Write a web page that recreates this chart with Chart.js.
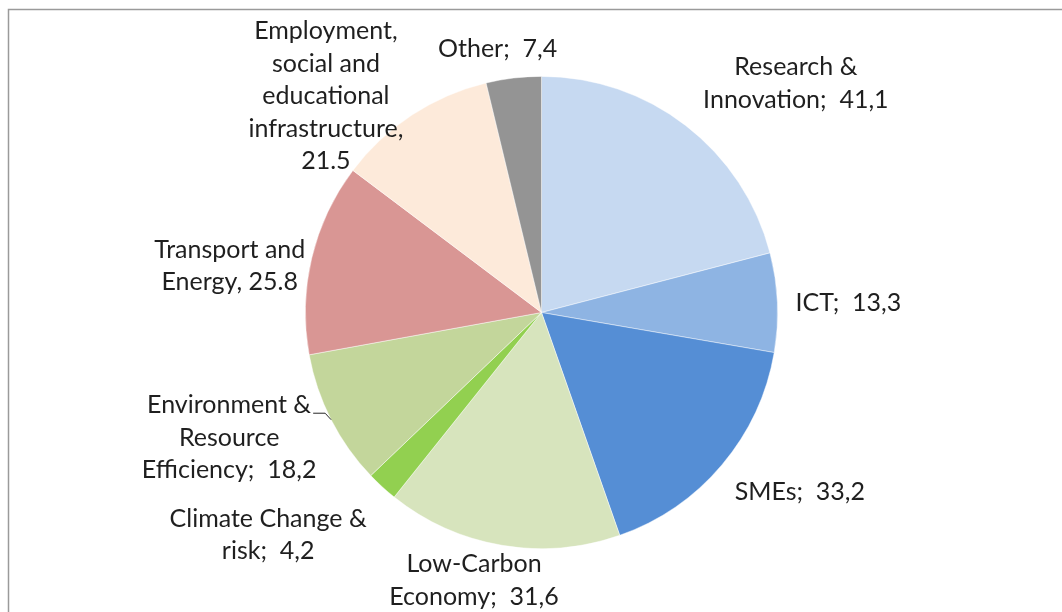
<!DOCTYPE html>
<html>
<head>
<meta charset="utf-8">
<script src="https://cdn.jsdelivr.net/npm/chart.js@4/dist/chart.umd.min.js"></script>
<style>
  html, body { margin: 0; padding: 0; background: #fff; }
  #wrap { width: 1062px; height: 612px; position: relative; }
</style>
</head>
<body>
<div id="wrap"><canvas id="c" width="1062" height="612"></canvas></div>
<script>
// ---- Data ----
const categories = [
  "Research & Innovation",
  "ICT",
  "SMEs",
  "Low-Carbon Economy",
  "Climate Change & risk",
  "Environment & Resource Efficiency",
  "Transport and Energy",
  "Employment, social and educational infrastructure",
  "Other"
];
const values = [41.1, 13.3, 33.2, 31.6, 4.2, 18.2, 25.8, 21.5, 7.4];
const labelTexts = [
  ["Research &", "Innovation;  41,1"],
  ["ICT;  13,3"],
  ["SMEs;  33,2"],
  ["Low-Carbon", "Economy;  31,6"],
  ["Climate Change &", "risk;  4,2"],
  ["Environment &", "Resource", "Efficiency;  18,2"],
  ["Transport and", "Energy, 25.8"],
  ["Employment,", "social and", "educational", "infrastructure,", "21.5"],
  ["Other;  7,4"]
];

// ---- Styles ----
const colors = ["#C6D9F1", "#8EB4E3", "#558ED5", "#D7E4BD", "#92D050", "#C3D69B", "#D99694", "#FDEADA", "#949494"];
// label offset from slice edge midpoint (dx, dy)
const labelOffsets = [[110, -42], [71, 0], [78, 27], [-28, 35], [-114, 48], [-102, 18], [-82, 8], [-86, -19], [-16, -29]];
const leaderLines = [false, false, false, false, false, true, false, false, false];
const FONT = '25px "Lato", "Open Sans", sans-serif';
const LINE_H = 32.5;

const framePlugin = {
  id: 'frame',
  beforeDraw(chart) {
    const ctx = chart.ctx;
    ctx.save();
    ctx.strokeStyle = '#9a9a9a';
    ctx.lineWidth = 1.5;
    ctx.beginPath();
    ctx.moveTo(8.5, 612);
    ctx.lineTo(8.5, 9.5);
    ctx.lineTo(1062, 9.5);
    ctx.stroke();
    ctx.restore();
  }
};

const labelPlugin = {
  id: 'pieLabels',
  afterDraw(chart) {
    const ctx = chart.ctx;
    const meta = chart.getDatasetMeta(0);
    ctx.save();
    ctx.font = FONT;
    ctx.fillStyle = '#1f1f1f';
    ctx.textAlign = 'center';
    ctx.textBaseline = 'middle';
    meta.data.forEach((arc, i) => {
      const p = arc.getProps(['x', 'y', 'startAngle', 'endAngle', 'outerRadius'], true);
      const mid = (p.startAngle + p.endAngle) / 2;
      const ex = p.x + Math.cos(mid) * p.outerRadius;
      const ey = p.y + Math.sin(mid) * p.outerRadius;
      const cx = ex + labelOffsets[i][0];
      const cy = ey + labelOffsets[i][1];
      const lines = labelTexts[i];
      const top = cy - (lines.length - 1) * LINE_H / 2;
      lines.forEach((t, k) => ctx.fillText(t, cx, top + k * LINE_H));
      if (leaderLines[i]) {
        const w = ctx.measureText(lines[0]).width;
        const lx = cx + w / 2 + 2;
        const ly = top + 8;
        ctx.strokeStyle = '#262626';
        ctx.lineWidth = 1;
        ctx.beginPath();
        ctx.moveTo(lx, ly);
        ctx.lineTo(ex - 6, ly);
        ctx.lineTo(ex, ey);
        ctx.stroke();
      }
    });
    ctx.restore();
  }
};

new Chart(document.getElementById('c'), {
  type: 'pie',
  data: {
    labels: categories,
    datasets: [{
      data: values,
      backgroundColor: colors,
      borderColor: 'rgba(255,255,255,0.6)',
      borderWidth: 0.75
    }]
  },
  options: {
    responsive: false,
    animation: false,
    layout: { padding: { left: 305, right: 284, top: 76, bottom: 63 } },
    plugins: {
      legend: { display: false },
      tooltip: { enabled: false }
    }
  },
  plugins: [framePlugin, labelPlugin]
});
</script>
</body>
</html>
